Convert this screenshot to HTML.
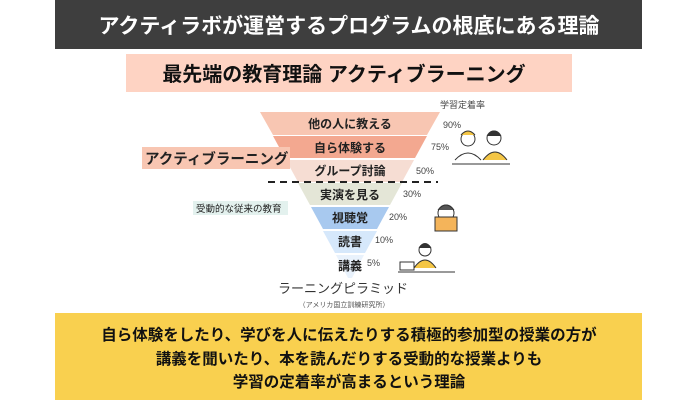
<!DOCTYPE html>
<html><head><meta charset="utf-8"><style>
body{margin:0;background:#fff;}
svg{display:block}
text{font-family:"Liberation Sans","Noto Sans CJK JP",sans-serif;}
</style></head><body>
<svg width="700" height="400" viewBox="0 0 700 400" xmlns="http://www.w3.org/2000/svg">
<rect x="55" y="0" width="587" height="49" fill="#3e3e3e"/>
<text x="349" y="33" font-size="21" fill="#fff" text-anchor="middle" font-weight="bold">アクティラボが運営するプログラムの根底にある理論</text>
<rect x="126" y="54" width="446" height="38" fill="#fed3c3"/>
<text x="344" y="81" font-size="20" fill="#111" text-anchor="middle" font-weight="bold">最先端の教育理論 アクティブラーニング</text>
<polygon points="260,112 440,112 427,135 273,135" fill="#f8c6b2"/>
<polygon points="273,136 427,136 415,158 285,158" fill="#f3a890"/>
<polygon points="286,160 414,160 402,182 298,182" fill="#f6ddd3"/>
<polygon points="298,183 402,183 390,205 310,205" fill="#e4e6d7"/>
<polygon points="311,207 389,207 377,229 323,229" fill="#a8c9ef"/>
<polygon points="323,231 377,231 365,253 335,253" fill="#d6e8fb"/>
<polygon points="336,255 364,255 352,278 348,278" fill="#e9f2fc"/>
<line x1="268" y1="182" x2="438" y2="182" stroke="#222" stroke-width="2" stroke-dasharray="7,5"/>
<g font-size="12" font-weight="bold" fill="#222" text-anchor="middle">
<text x="350" y="128">他の人に教える</text>
<text x="350" y="152">自ら体験する</text>
<text x="350" y="175">グループ討論</text>
<text x="350" y="199">実演を見る</text>
<text x="350" y="222">視聴覚</text>
<text x="350" y="246">読書</text>
<text x="350" y="270">講義</text>
</g>
<rect x="142" y="147" width="148" height="22" fill="#f8c6b2"/>
<text x="145" y="164" font-size="14.5" fill="#222" font-weight="bold">アクティブラーニング</text>
<rect x="193" y="201" width="95" height="14" fill="#e3f1ee"/>
<text x="196" y="212" font-size="9.5" fill="#222">受動的な従来の教育</text>
<g font-size="9" fill="#444">
<text x="440" y="108">学習定着率</text>
<text x="443" y="128">90%</text>
<text x="431" y="150">75%</text>
<text x="416" y="174">50%</text>
<text x="403" y="197">30%</text>
<text x="389" y="220">20%</text>
<text x="375" y="243">10%</text>
<text x="367" y="266">5%</text>
</g>
<text x="343" y="293" font-size="13" fill="#333" text-anchor="middle">ラーニングピラミッド</text>
<text x="344" y="307" font-size="7" fill="#555" text-anchor="middle">（アメリカ国立訓練研究所）</text>
<g stroke="#333" stroke-width="1" fill="none">
<circle cx="468" cy="139" r="7" fill="#fff"/>
<path d="M461,135 q7,-8 14,0" fill="#f4c646"/>
<path d="M455,160 q13,-14 26,0" fill="#fff"/>
<circle cx="494" cy="138" r="7" fill="#fff"/>
<path d="M487,136 q7,-10 14,0" fill="#333"/>
<path d="M483,160 q12,-16 24,0" fill="#f4c646"/>
<line x1="452" y1="164" x2="510" y2="164"/>
<circle cx="446" cy="213" r="8" fill="#fff"/>
<path d="M438,210 q8,-10 16,0" fill="#555"/>
<rect x="435" y="217" width="22" height="14" fill="#f4b45a"/>
<circle cx="425" cy="250" r="6" fill="#fff"/>
<path d="M419,248 q6,-9 12,0" fill="#333"/>
<path d="M414,268 q11,-16 22,0" fill="#f4c646"/>
<line x1="398" y1="272" x2="455" y2="272"/>
<rect x="400" y="262" width="14" height="8" fill="#fff"/>
</g>
<rect x="55" y="313" width="587" height="87" fill="#f9d04f"/>
<g font-size="15.5" font-weight="bold" fill="#111" text-anchor="middle">
<text x="349" y="340">自ら体験をしたり、学びを人に伝えたりする積極的参加型の授業の方が</text>
<text x="349" y="364">講義を聞いたり、本を読んだりする受動的な授業よりも</text>
<text x="349" y="387">学習の定着率が高まるという理論</text>
</g>
</svg>
</body></html>
